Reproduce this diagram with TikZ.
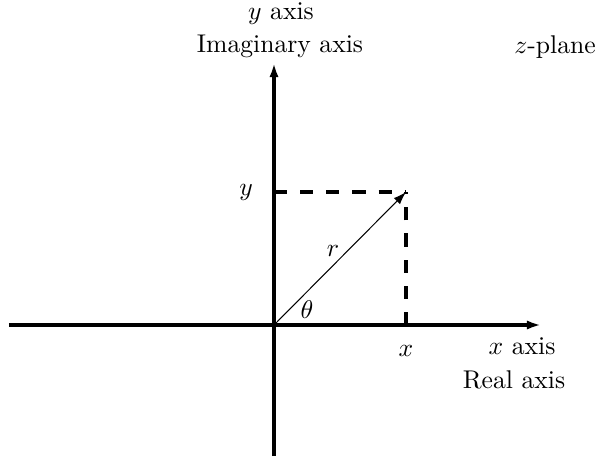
\documentclass[tikz,border=0pt]{standalone}
\usetikzlibrary{arrows.meta}
\begin{document}
\begin{tikzpicture}[x=0.39pt,y=-0.39pt,
  axis/.style={line width=1.2pt,-{Latex[length=5.5pt,width=3.6pt]}},
  guide/.style={line width=1.25pt,dash pattern=on 5.1pt off 5.1pt},
  vec/.style={line width=0.4pt,-{Latex[length=5pt,width=3.4pt]}},
  lbl/.style={inner sep=0pt}]
\useasboundingbox (0,0) rectangle (600,461);
\coordinate (O) at (274,325);
\coordinate (xl) at (9,325);
\coordinate (xr) at (541,325);
\coordinate (yb) at (274,456);
\coordinate (yt) at (274,63);
\coordinate (P) at (406,192);
\coordinate (Px) at (406,325);
\coordinate (Py) at (274,192);
\draw[axis] (xl) -- (xr);
\draw[axis] (yb) -- (yt);
\draw[guide] (Py) -- (P);
\draw[guide] (Px) -- (P);
\draw[vec] (O) -- (P);
\node[lbl] (ylab) at (281,14) {$y$ axis};
\node[lbl] (imlab) at (280,46) {Imaginary axis};
\node[lbl] (zpl) at (555,47) {$z$-plane};
\node[lbl] (ytick) at (246,192) {$y$};
\node[lbl] (xtick) at (406,351) {$x$};
\node[lbl] (rlab) at (333,251) {$r$};
\node[lbl] (th) at (307,310) {$\theta$};
\node[lbl] (xlab) at (522,346) {$x$ axis};
\node[lbl] (relab) at (514,380) {Real axis};
\end{tikzpicture}
\end{document}
